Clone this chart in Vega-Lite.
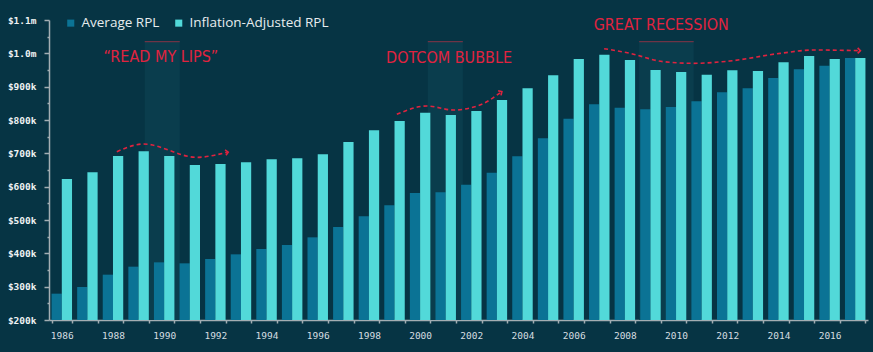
{
  "$schema": "https://vega.github.io/schema/vega-lite/v6.json",
  "width": 819,
  "height": 300,
  "autosize": {"type": "none"},
  "padding": {"left": 49, "top": 20, "right": 5, "bottom": 32},
  "background": "#063444",
  "config": {
    "view": {"stroke": null},
    "axis": {"grid": false, "labelOverlap": false}
  },
  "datasets": {
    "rpl": [
      {"year": 1986, "series": "Average RPL", "value": 279000}, {"year": 1986, "series": "Inflation-Adjusted RPL", "value": 623000},
      {"year": 1987, "series": "Average RPL", "value": 299000}, {"year": 1987, "series": "Inflation-Adjusted RPL", "value": 643000},
      {"year": 1988, "series": "Average RPL", "value": 336000}, {"year": 1988, "series": "Inflation-Adjusted RPL", "value": 692000},
      {"year": 1989, "series": "Average RPL", "value": 360000}, {"year": 1989, "series": "Inflation-Adjusted RPL", "value": 706000},
      {"year": 1990, "series": "Average RPL", "value": 373000}, {"year": 1990, "series": "Inflation-Adjusted RPL", "value": 692000},
      {"year": 1991, "series": "Average RPL", "value": 370000}, {"year": 1991, "series": "Inflation-Adjusted RPL", "value": 665000},
      {"year": 1992, "series": "Average RPL", "value": 383000}, {"year": 1992, "series": "Inflation-Adjusted RPL", "value": 668000},
      {"year": 1993, "series": "Average RPL", "value": 397000}, {"year": 1993, "series": "Inflation-Adjusted RPL", "value": 673000},
      {"year": 1994, "series": "Average RPL", "value": 413000}, {"year": 1994, "series": "Inflation-Adjusted RPL", "value": 682000},
      {"year": 1995, "series": "Average RPL", "value": 425000}, {"year": 1995, "series": "Inflation-Adjusted RPL", "value": 685000},
      {"year": 1996, "series": "Average RPL", "value": 448000}, {"year": 1996, "series": "Inflation-Adjusted RPL", "value": 697000},
      {"year": 1997, "series": "Average RPL", "value": 479000}, {"year": 1997, "series": "Inflation-Adjusted RPL", "value": 734000},
      {"year": 1998, "series": "Average RPL", "value": 511000}, {"year": 1998, "series": "Inflation-Adjusted RPL", "value": 769000},
      {"year": 1999, "series": "Average RPL", "value": 544000}, {"year": 1999, "series": "Inflation-Adjusted RPL", "value": 797000},
      {"year": 2000, "series": "Average RPL", "value": 581000}, {"year": 2000, "series": "Inflation-Adjusted RPL", "value": 822000},
      {"year": 2001, "series": "Average RPL", "value": 583000}, {"year": 2001, "series": "Inflation-Adjusted RPL", "value": 815000},
      {"year": 2002, "series": "Average RPL", "value": 606000}, {"year": 2002, "series": "Inflation-Adjusted RPL", "value": 827000},
      {"year": 2003, "series": "Average RPL", "value": 642000}, {"year": 2003, "series": "Inflation-Adjusted RPL", "value": 860000},
      {"year": 2004, "series": "Average RPL", "value": 691000}, {"year": 2004, "series": "Inflation-Adjusted RPL", "value": 895000},
      {"year": 2005, "series": "Average RPL", "value": 745000}, {"year": 2005, "series": "Inflation-Adjusted RPL", "value": 934000},
      {"year": 2006, "series": "Average RPL", "value": 804000}, {"year": 2006, "series": "Inflation-Adjusted RPL", "value": 983000},
      {"year": 2007, "series": "Average RPL", "value": 847000}, {"year": 2007, "series": "Inflation-Adjusted RPL", "value": 996000},
      {"year": 2008, "series": "Average RPL", "value": 837000}, {"year": 2008, "series": "Inflation-Adjusted RPL", "value": 980000},
      {"year": 2009, "series": "Average RPL", "value": 832000}, {"year": 2009, "series": "Inflation-Adjusted RPL", "value": 950000},
      {"year": 2010, "series": "Average RPL", "value": 839000}, {"year": 2010, "series": "Inflation-Adjusted RPL", "value": 944000},
      {"year": 2011, "series": "Average RPL", "value": 856000}, {"year": 2011, "series": "Inflation-Adjusted RPL", "value": 936000},
      {"year": 2012, "series": "Average RPL", "value": 883000}, {"year": 2012, "series": "Inflation-Adjusted RPL", "value": 949000},
      {"year": 2013, "series": "Average RPL", "value": 895000}, {"year": 2013, "series": "Inflation-Adjusted RPL", "value": 947000},
      {"year": 2014, "series": "Average RPL", "value": 926000}, {"year": 2014, "series": "Inflation-Adjusted RPL", "value": 973000},
      {"year": 2015, "series": "Average RPL", "value": 952000}, {"year": 2015, "series": "Inflation-Adjusted RPL", "value": 992000},
      {"year": 2016, "series": "Average RPL", "value": 963000}, {"year": 2016, "series": "Inflation-Adjusted RPL", "value": 983000},
      {"year": 2017, "series": "Average RPL", "value": 986000}, {"year": 2017, "series": "Inflation-Adjusted RPL", "value": 986000}
    ],
    "shades": [
      {"event": "READ MY LIPS", "start": 1989.24, "end": 1990.61, "top": 1035000},
      {"event": "DOTCOM BUBBLE", "start": 2000.3, "end": 2001.67, "top": 1035000},
      {"event": "GREAT RECESSION", "start": 2008.56, "end": 2010.69, "top": 1035000}
    ],
    "curves": [
      {"event": "READ MY LIPS", "order": 1, "x": 1988.15, "y": 705000},
      {"event": "READ MY LIPS", "order": 2, "x": 1989.19, "y": 728000},
      {"event": "READ MY LIPS", "order": 3, "x": 1991.27, "y": 688000},
      {"event": "READ MY LIPS", "order": 4, "x": 1992.45, "y": 703000},
      {"event": "DOTCOM BUBBLE", "order": 1, "x": 1999.09, "y": 817000},
      {"event": "DOTCOM BUBBLE", "order": 2, "x": 2000.26, "y": 842000},
      {"event": "DOTCOM BUBBLE", "order": 3, "x": 2001.3, "y": 830000},
      {"event": "DOTCOM BUBBLE", "order": 4, "x": 2002.34, "y": 845000},
      {"event": "DOTCOM BUBBLE", "order": 5, "x": 2003.15, "y": 883000},
      {"event": "GREAT RECESSION", "order": 1, "x": 2007.19, "y": 1014000},
      {"event": "GREAT RECESSION", "order": 2, "x": 2008.2, "y": 1000000},
      {"event": "GREAT RECESSION", "order": 3, "x": 2009.5, "y": 975000},
      {"event": "GREAT RECESSION", "order": 4, "x": 2010.68, "y": 970000},
      {"event": "GREAT RECESSION", "order": 5, "x": 2012.1, "y": 977000},
      {"event": "GREAT RECESSION", "order": 6, "x": 2014.07, "y": 1000000},
      {"event": "GREAT RECESSION", "order": 7, "x": 2015.37, "y": 1010000},
      {"event": "GREAT RECESSION", "order": 8, "x": 2017.15, "y": 1008000}
    ],
    "heads": [
      {"event": "READ MY LIPS", "x": 1992.45, "y": 703000, "angle": 350},
      {"event": "DOTCOM BUBBLE", "x": 2003.15, "y": 883000, "angle": 328},
      {"event": "GREAT RECESSION", "x": 2017.15, "y": 1008000, "angle": 0}
    ],
    "notes": [
      {"label": "“READ MY LIPS”", "x": 1989.87, "y": 990000},
      {"label": "DOTCOM BUBBLE", "x": 2001.13, "y": 985000},
      {"label": "GREAT RECESSION", "x": 2009.42, "y": 1086000}
    ]
  },
  "layer": [
    {
      "data": {"name": "shades"},
      "mark": {"type": "rect", "color": "#0a3d4d"},
      "encoding": {
        "x": {"field": "start", "type": "quantitative", "scale": {"domain": [1985.5, 2017.5], "nice": false, "zero": false}, "axis": null},
        "x2": {"field": "end"},
        "y": {
          "field": "top", "type": "quantitative",
          "scale": {"domain": [200000, 1100000], "nice": false, "zero": false},
          "axis": {
            "title": null,
            "orient": "left",
            "values": [200000, 300000, 400000, 500000, 600000, 700000, 800000, 900000, 1000000, 1100000],
            "labelExpr": "datum.value >= 1000000 ? '$' + format(datum.value / 1000000, '.1f') + 'm' : '$' + format(datum.value / 1000, 'd') + 'k'",
            "tickSize": 5,
            "tickColor": "#a3aeb3",
            "tickWidth": 1.5,
            "domainColor": "#a3aeb3",
            "domainWidth": 1.5,
            "labelColor": "#eef2f3",
            "labelFont": "DejaVu Sans Mono",
            "labelFontWeight": "bold",
            "labelFontSize": 9.5,
            "labelPadding": 8
          }
        },
        "y2": {"datum": 200000}
      }
    },
    {
      "data": {"name": "shades"},
      "mark": {"type": "rule", "color": "#6e3446", "strokeWidth": 1.2},
      "encoding": {
        "x": {"field": "start", "type": "quantitative", "scale": {"domain": [1985.5, 2017.5], "nice": false, "zero": false}, "axis": null},
        "x2": {"field": "end"},
        "y": {
          "field": "top", "type": "quantitative",
          "axis": {
            "title": null,
            "orient": "left",
            "values": [250000, 350000, 450000, 550000, 650000, 750000, 850000, 950000, 1050000],
            "labels": false,
            "domain": false,
            "tickColor": "#a3aeb3",
            "tickWidth": 1.5,
            "tickSize": 2
          }
        }
      }
    },
    {
      "data": {"name": "rpl"},
      "mark": {"type": "bar"},
      "encoding": {
        "x": {
          "field": "year", "type": "ordinal",
          "scale": {"paddingInner": 0.2, "paddingOuter": 0.1},
          "axis": {
            "title": null,
            "tickBand": "extent",
            "labelAngle": 0,
            "labelExpr": "datum.value % 2 == 0 ? datum.label : ''",
            "tickSize": 3,
            "tickColor": "#a3aeb3",
            "tickWidth": 1.5,
            "domainColor": "#a3aeb3",
            "domainWidth": 1.5,
            "labelPadding": 7,
            "labelColor": "#d5dde0",
            "labelFont": "DejaVu Sans Mono",
            "labelFontSize": 9.5
          }
        },
        "xOffset": {"field": "series", "type": "nominal", "sort": ["Average RPL", "Inflation-Adjusted RPL"], "scale": {"paddingInner": 0, "paddingOuter": 0}},
        "y": {"field": "value", "type": "quantitative", "axis": null},
        "y2": {"datum": 200000},
        "color": {
          "field": "series", "type": "nominal",
          "scale": {"domain": ["Average RPL", "Inflation-Adjusted RPL"], "range": ["#0b7395", "#52d9d9"]},
          "legend": {
            "title": null,
            "orient": "none",
            "legendX": 15,
            "legendY": -4,
            "direction": "horizontal",
            "symbolType": "square",
            "symbolSize": 50,
            "symbolStrokeWidth": 0,
            "labelColor": "#e6ecee",
            "labelFont": "Open Sans",
            "labelFontSize": 13.5,
            "labelOffset": 4,
            "columnPadding": 12,
            "padding": 0
          }
        }
      }
    },
    {
      "mark": {"type": "rule", "color": "#a3aeb3", "strokeWidth": 1.3},
      "encoding": {
        "x": {"datum": 1985.5, "type": "quantitative", "scale": {"domain": [1985.5, 2017.5], "nice": false, "zero": false}, "axis": null},
        "y": {"datum": 200000, "type": "quantitative", "axis": null},
        "y2": {"datum": 1100000}
      }
    },
    {
      "mark": {"type": "rule", "color": "#a3aeb3", "strokeWidth": 1.3},
      "encoding": {
        "x": {"datum": 1985.5, "type": "quantitative", "scale": {"domain": [1985.5, 2017.5], "nice": false, "zero": false}, "axis": null},
        "x2": {"datum": 2017.5},
        "y": {"datum": 200000, "type": "quantitative", "axis": null}
      }
    },
    {
      "data": {"name": "curves"},
      "mark": {"type": "line", "color": "#e0233f", "strokeWidth": 1.6, "strokeDash": [4, 3], "interpolate": "monotone"},
      "encoding": {
        "x": {"field": "x", "type": "quantitative", "scale": {"domain": [1985.5, 2017.5], "nice": false, "zero": false}, "axis": null},
        "y": {"field": "y", "type": "quantitative", "axis": null},
        "detail": {"field": "event"},
        "order": {"field": "order"}
      }
    },
    {
      "data": {"name": "heads"},
      "mark": {"type": "point", "shape": "M-0.5,-1L0.5,0L-0.5,1", "filled": false, "color": "#e0233f", "strokeWidth": 1.6, "size": 30, "opacity": 1},
      "encoding": {
        "x": {"field": "x", "type": "quantitative", "scale": {"domain": [1985.5, 2017.5], "nice": false, "zero": false}, "axis": null},
        "y": {"field": "y", "type": "quantitative", "axis": null},
        "angle": {"field": "angle", "type": "quantitative", "scale": null}
      }
    },
    {
      "data": {"name": "notes"},
      "mark": {"type": "text", "color": "#e0233f", "font": "DejaVu Sans Condensed, sans-serif", "fontSize": 16, "baseline": "middle", "align": "center"},
      "encoding": {
        "x": {"field": "x", "type": "quantitative", "scale": {"domain": [1985.5, 2017.5], "nice": false, "zero": false}, "axis": null},
        "y": {"field": "y", "type": "quantitative", "axis": null},
        "text": {"field": "label"}
      }
    }
  ],
  "resolve": {"scale": {"x": "independent", "xOffset": "independent"}, "axis": {"x": "independent", "y": "independent"}}
}
